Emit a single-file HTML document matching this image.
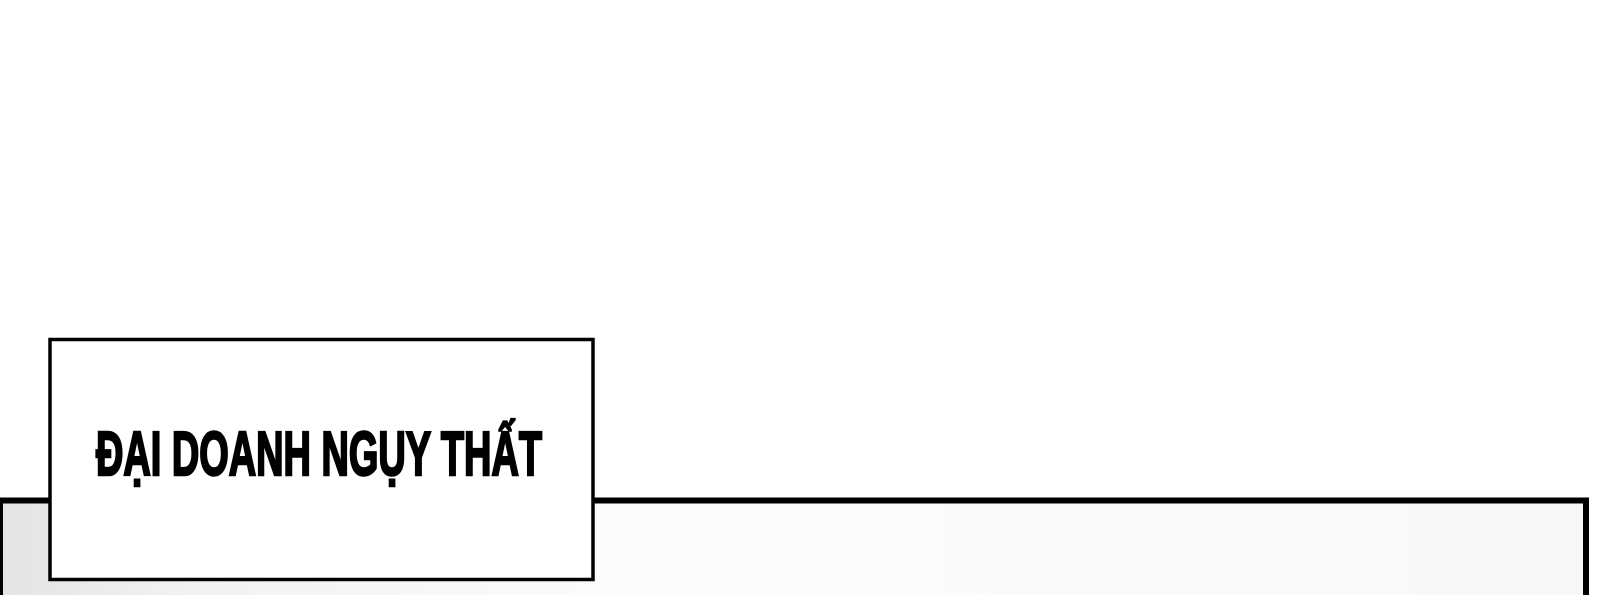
<!DOCTYPE html>
<html><head><meta charset="utf-8"><style>
html,body{margin:0;padding:0;background:#fff;width:1600px;height:595px;overflow:hidden}
</style></head><body>
<svg width="1600" height="595" xmlns="http://www.w3.org/2000/svg" style="position:absolute;left:0;top:0">
<defs>
<linearGradient id="g" x1="0" x2="1" y1="0" y2="0">
<stop offset="0" stop-color="#e4e4e4"/>
<stop offset="0.12" stop-color="#f2f2f2"/>
<stop offset="0.4" stop-color="#fcfcfc"/>
<stop offset="1" stop-color="#f8f8f8"/>
</linearGradient>
</defs>
<rect x="0" y="500.5" width="1586" height="100" fill="url(#g)" stroke="#000" stroke-width="6"/>
<rect x="50" y="339.5" width="543" height="240" fill="#fff" stroke="#000" stroke-width="3.5"/>
<text x="96" y="475" font-family="Liberation Sans, DejaVu Sans, sans-serif" font-weight="bold" font-size="62" textLength="446" lengthAdjust="spacingAndGlyphs" fill="#000" stroke="#000" stroke-width="2.5">ĐẠI DOANH NGỤY THẤT</text>
</svg>
</body></html>
